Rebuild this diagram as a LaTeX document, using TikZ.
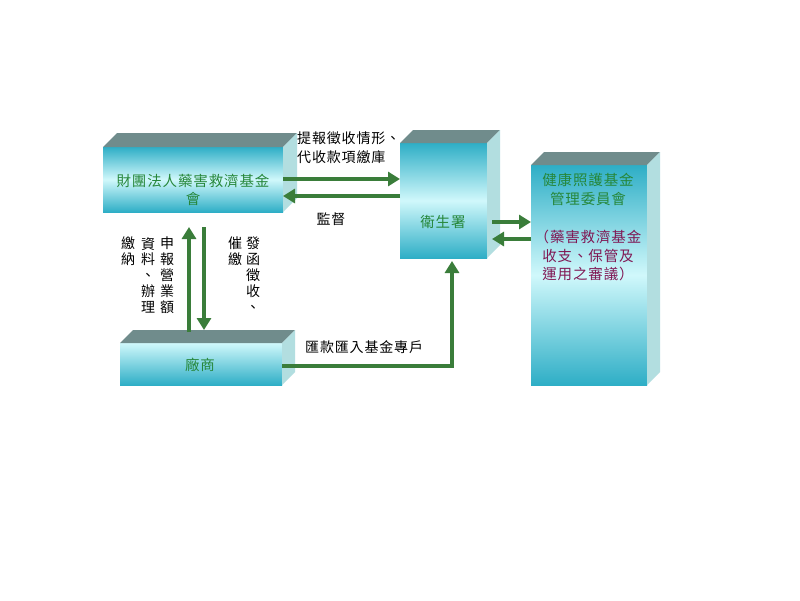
\documentclass[tikz,border=0pt]{standalone}
\usepackage{fontspec}
\newfontfamily\cjk[LetterSpace=6]{Noto Sans CJK TC}
\newfontfamily\cjkv{Noto Sans CJK TC}
\usetikzlibrary{arrows.meta}
\definecolor{cdark}{RGB}{46,174,198}
\definecolor{clight}{RGB}{208,248,251}
\definecolor{ctop}{RGB}{112,140,140}
\definecolor{cside}{RGB}{178,222,224}
\definecolor{agreen}{RGB}{58,125,58}
\definecolor{tgreen}{RGB}{38,135,58}
\definecolor{tpurple}{RGB}{128,24,84}
\newcommand\cubefaces[2]{%
  \fill[ctop] (#1.north west) -- ([shift={(#2,-#2)}]#1.north west) -- ([shift={(#2,-#2)}]#1.north east) -- (#1.north east) -- cycle;
  \fill[cside] (#1.north east) -- ([shift={(#2,-#2)}]#1.north east) -- ([shift={(#2,-#2)}]#1.south east) -- (#1.south east) -- cycle;
}
\begin{document}
\begin{tikzpicture}[x=1pt,y=-1pt,
  front/.style={inner sep=0, outer sep=0, draw=none},
  vgrad/.style={top color=cdark, bottom color=cdark, middle color=clight},
  boxtext/.style={font=\cjk\fontsize{14.5}{18}\selectfont, text=tgreen, align=center, inner sep=0},
  lbl/.style={font=\cjk\fontsize{14}{19}\selectfont, align=left, inner sep=0},
  vlbl/.style={font=\cjkv\fontsize{14}{15.8}\selectfont, align=center, inner sep=0, anchor=north},
  arr/.style={draw=agreen, line width=3.8pt, -{Triangle[length=12pt,width=14pt]}}]
\useasboundingbox[fill=white] (0,0) rectangle (800,600);

% boxes
\node[front, vgrad, minimum width=180pt, minimum height=65pt] (fund) at (193,179.5) {};
\cubefaces{fund}{14}
\node[front, vgrad, minimum width=87pt, minimum height=115pt] (doh) at (443.5,200.5) {};
\cubefaces{doh}{13}
\node[front, vgrad, minimum width=116pt, minimum height=220pt] (nhi) at (589,275) {};
\cubefaces{nhi}{13}
\node[front, top color=clight, bottom color=cdark, minimum width=162pt, minimum height=42pt] (firm) at (201,364) {};
\cubefaces{firm}{13}

% box texts
\node[boxtext] (fundt) at (193,189.5) {財團法人藥害救濟基金\\會};
\node[boxtext] (doht) at (443,222) {衛生署};
\node[boxtext, font=\cjk\fontsize{14.5}{19}\selectfont] (nhit) at (588,189.5) {健康照護基金\\管理委員會};
\node[boxtext, text=tpurple, font=\cjk\fontsize{14.5}{18.5}\selectfont] (nhip) at (588,255.5) {（藥害救濟基金\\收支、保管及\\運用之審議）};
\node[boxtext] (firmt) at (200,365) {廠商};

% arrows
\draw[arr] (fund.east |- 0,179) -- (doh.west |- 0,179);
\draw[arr] (doh.west |- 0,196) -- (fund.east |- 0,196);
\draw[arr] ([xshift=5pt]doh.east |- 0,222) -- (nhi.west |- 0,222);
\draw[arr] (nhi.west |- 0,239) -- ([xshift=5pt]doh.east |- 0,239);
\draw[arr] ([shift={(-12,-11)}]firm.north) -- ([shift={(-4,15)}]fund.south);
\draw[arr] ([shift={(11,15)}]fund.south) -- ([shift={(3,-13)}]firm.north);
\draw[arr] (firm.east |- 0,366) -| ([shift={(8.5,3)}]doh.south);

% labels
\node[lbl, anchor=west] (l1) at (297,147.5) {提報徵收情形、\\代收款項繳庫};
\node[lbl] (l2) at (331,219) {監督};
\node[lbl, anchor=west] (l3) at (305,347) {匯款匯入基金專戶};
\node[vlbl] (v1) at (167,237) {申\\報\\營\\業\\額};
\node[vlbl] (v2) at (148,237) {資\\料\\、\\辦\\理};
\node[vlbl] (v3) at (128,237) {繳\\納};
\node[vlbl] (v4) at (253,237) {發\\函\\徵\\收\\、};
\node[vlbl] (v5) at (235,237) {催\\繳};
\end{tikzpicture}
\end{document}
